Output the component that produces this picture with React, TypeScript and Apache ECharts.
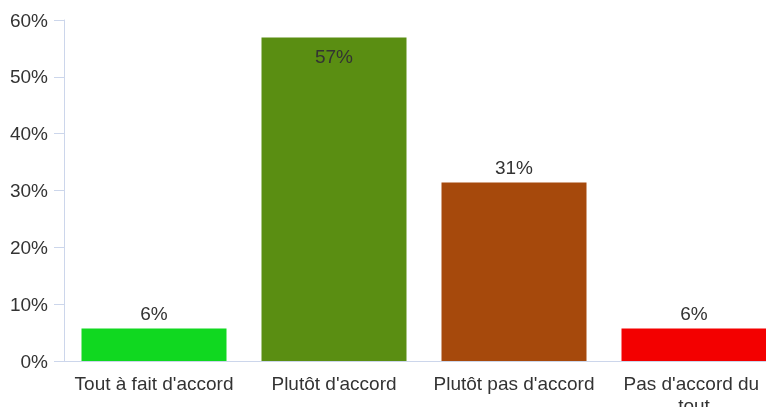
import React, { useEffect, useRef } from "react";
import * as echarts from "echarts";

const categories = ["Tout à fait d'accord", "Plutôt d'accord", "Plutôt pas d'accord", "Pas d'accord du tout"];
const values = [5.7, 56.9, 31.4, 5.7];
const barColors = ["#10d820", "#5a8e12", "#a6490c", "#f30000"];
const labelPositions = ["top", "insideTop", "top", "top"];
const yTicks = [0, 10, 20, 30, 40, 50, 60];

const FONT = "'Liberation Sans', Arial, sans-serif";

export default function App() {
  const ref = useRef<HTMLDivElement>(null);
  useEffect(() => {
    if (!ref.current) return;
    const chart = echarts.init(ref.current, undefined, { renderer: "svg" });
    chart.setOption({
      animation: false,
      textStyle: { fontFamily: FONT },
      grid: { left: 64, top: 20, bottom: 46, width: 720, containLabel: false, outerBoundsMode: "none" },
      xAxis: {
        type: "category",
        data: categories,
        axisLine: { lineStyle: { color: "#ccd6eb" } },
        axisTick: { length: 10, lineStyle: { color: "#ccd6eb" } },
        axisLabel: {
          color: "#333",
          fontSize: 19,
          fontFamily: FONT,
          margin: 11,
          width: 170,
          overflow: "break",
          lineHeight: 22,
          interval: 0,
        },
      },
      yAxis: {
        type: "value",
        min: yTicks[0],
        max: yTicks[yTicks.length - 1],
        interval: 10,
        axisLine: { show: true, lineStyle: { color: "#ccd6eb" } },
        axisTick: { show: true, length: 10, lineStyle: { color: "#ccd6eb" } },
        splitLine: { show: false },
        axisLabel: {
          color: "#333",
          fontSize: 19,
          fontFamily: FONT,
          margin: 16,
          formatter: (v: number) => `${v}%`,
        },
      },
      series: [
        {
          type: "bar",
          barWidth: 145,
          data: values.map((v, i) => ({
            value: v,
            itemStyle: { color: barColors[i] },
            label: { position: labelPositions[i], distance: labelPositions[i] === "top" ? 6 : 9 },
          })),
          label: {
            show: true,
            color: "#333",
            fontSize: 19,
            fontFamily: FONT,
            formatter: (p: any) => `${Math.round(p.value)}%`,
          },
        },
      ],
    });
    return () => chart.dispose();
  }, []);
  return <div ref={ref} style={{ position: "fixed", left: 0, top: 0, width: 766, height: 407 }} />;
}
